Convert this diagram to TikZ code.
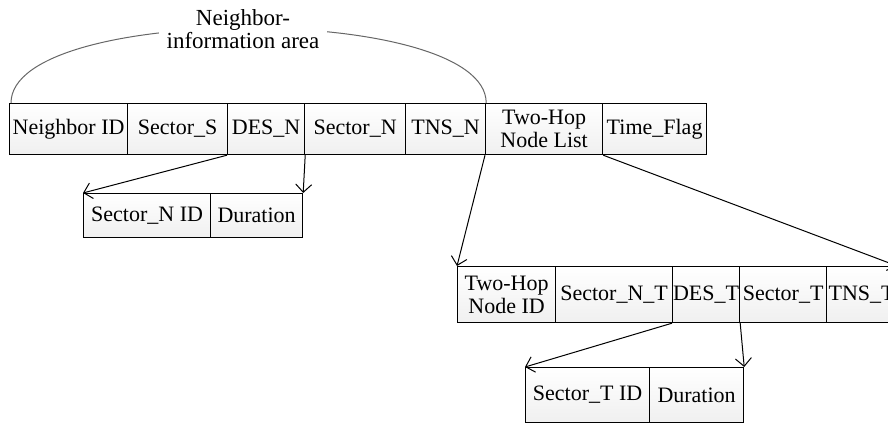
\documentclass[tikz,border=0pt]{standalone}
\usepackage{fontspec}
\setmainfont{Liberation Serif}
\usetikzlibrary{arrows.meta}

\begin{document}
\begin{tikzpicture}[x=0.5pt, y=-0.5pt,
    field/.style={draw, line width=0.6pt, top color=white, bottom color=gray!12,
        inner sep=0pt, anchor=north west, align=center,
        font=\fontsize{11}{11.5}\selectfont},
    link/.style={-{Straight Barb[length=4pt, width=8pt]}, line width=0.5pt}]
            %\draw[lightgray] (0, 0) grid (888, 426);
            \useasboundingbox (0, 0) rectangle (888, 426);
            % neighbor entry
            \node[field, minimum width=59pt, minimum height=25.5pt] (nid) at (9, 103) {Neighbor ID};
            \node[field, minimum width=50pt, minimum height=25.5pt] (secs) at (127, 103) {Sector\_S};
            \node[field, minimum width=38.5pt, minimum height=25.5pt] (desn) at (227, 103) {DES\_N};
            \node[field, minimum width=50.5pt, minimum height=25.5pt] (secn) at (304, 103) {Sector\_N};
            \node[field, minimum width=40pt, minimum height=25.5pt] (tnsn) at (405, 103) {TNS\_N};
            \node[field, minimum width=58.5pt, minimum height=25.5pt] (list) at (485, 103) {Two-Hop\\Node List};
            \node[field, minimum width=52pt, minimum height=25.5pt] (flag) at (602, 103) {Time\_Flag};
            \draw[line width=0.5pt, gray!80!black] ([xshift=1pt]nid.north west) .. controls +(0, -100) and +(0, -100) .. (tnsn.north east);
            \node[fill=white, align=center, inner xsep=4pt, inner ysep=1pt, font=\fontsize{11.5}{11.5}\selectfont] (area) at (243, 29) {Neighbor-\\information area};
            % DES_N fields
            \node[field, minimum width=63.5pt, minimum height=22pt] (snid) at (83, 193) {Sector\_N ID};
            \node[field, minimum width=46pt, minimum height=22pt] (durn) at (210, 193) {Duration};
            \draw[link] (desn.south west) -- (snid.north west);
            \draw[link] (desn.south east) -- (durn.north east);
            % two-hop entry
            \node[field, minimum width=49pt, minimum height=28pt] (thid) at (457, 266) {Two-Hop\\Node ID};
            \node[field, minimum width=58.5pt, minimum height=28pt] (secnt) at (555, 266) {Sector\_N\_T};
            \node[field, minimum width=33.5pt, minimum height=28pt] (dest) at (672, 266) {DES\_T};
            \node[field, minimum width=43.5pt, minimum height=28pt] (sect) at (739, 266) {Sector\_T};
            \node[field, minimum width=35pt, minimum height=28pt] (tnst) at (826, 266) {TNS\_T};
            \draw[link] (list.south west) -- (thid.north west);
            \draw[link] (list.south east) -- (tnst.north east);
            % DES_T fields
            \node[field, minimum width=62pt, minimum height=27.5pt] (stid) at (525, 367) {Sector\_T ID};
            \node[field, minimum width=47pt, minimum height=27.5pt] (durt) at (649, 367) {Duration};
            \draw[link] (dest.south west) -- (stid.north west);
            \draw[link] (dest.south east) -- (durt.north east);
        \end{tikzpicture}
\end{document}
